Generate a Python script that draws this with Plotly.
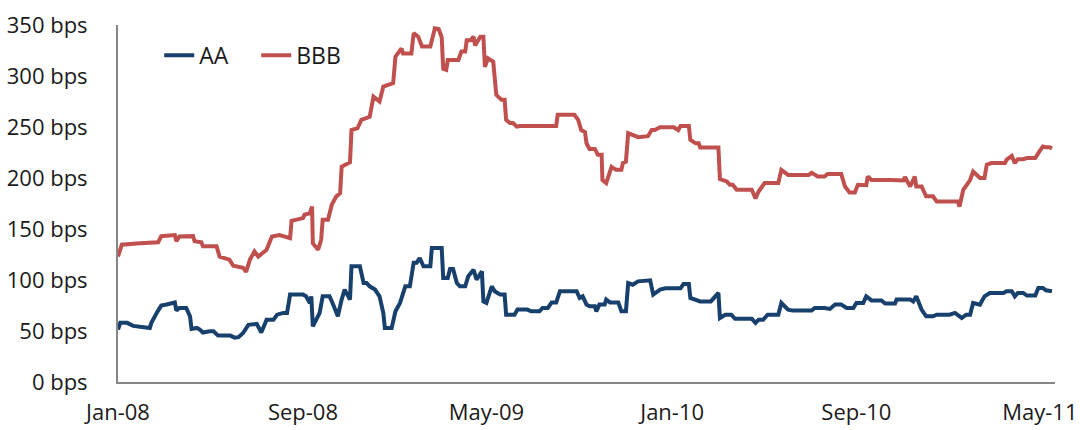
import plotly.graph_objects as go

aa_dates = [
    "2008-01-01", "2008-01-04", "2008-01-13", "2008-01-21", "2008-02-12", "2008-02-14", "2008-02-21",
    "2008-02-27", "2008-03-05", "2008-03-16", "2008-03-18", "2008-03-22", "2008-03-31", "2008-04-05",
    "2008-04-07", "2008-04-14", "2008-04-18", "2008-04-22", "2008-05-01", "2008-05-06", "2008-05-12",
    "2008-05-28", "2008-06-03", "2008-06-08", "2008-06-14", "2008-06-21", "2008-07-02", "2008-07-08",
    "2008-07-15", "2008-07-24", "2008-07-29", "2008-08-06", "2008-08-11", "2008-08-15", "2008-09-01",
    "2008-09-05", "2008-09-10", "2008-09-12", "2008-09-14", "2008-09-21", "2008-09-23", "2008-09-27",
    "2008-10-06", "2008-10-10", "2008-10-17", "2008-10-22", "2008-10-26", "2008-11-02", "2008-11-04",
    "2008-11-15", "2008-11-20", "2008-11-24", "2008-11-28", "2008-12-05", "2008-12-11", "2008-12-16",
    "2008-12-18", "2008-12-27", "2009-01-01", "2009-01-07", "2009-01-14", "2009-01-20", "2009-01-25",
    "2009-01-29", "2009-02-02", "2009-02-07", "2009-02-16", "2009-02-18", "2009-03-03", "2009-03-05",
    "2009-03-11", "2009-03-14", "2009-03-18", "2009-03-23", "2009-03-27", "2009-04-03", "2009-04-07",
    "2009-04-14", "2009-04-18", "2009-04-25", "2009-04-27", "2009-05-01", "2009-05-08", "2009-05-12",
    "2009-05-19", "2009-05-25", "2009-05-27", "2009-06-07", "2009-06-11", "2009-06-24", "2009-06-29",
    "2009-07-10", "2009-07-14", "2009-07-21", "2009-07-26", "2009-08-01", "2009-08-06", "2009-08-28",
    "2009-09-01", "2009-09-05", "2009-09-10", "2009-09-14", "2009-09-21", "2009-09-23", "2009-09-27",
    "2009-10-04", "2009-10-06", "2009-10-11", "2009-10-22", "2009-10-26", "2009-11-01", "2009-11-04",
    "2009-11-10", "2009-11-17", "2009-12-03", "2009-12-07", "2009-12-16", "2009-12-23", "2010-01-12",
    "2010-01-16", "2010-01-23", "2010-01-25", "2010-02-01", "2010-02-07", "2010-02-21", "2010-02-27",
    "2010-03-03", "2010-03-05", "2010-03-12", "2010-03-20", "2010-03-25", "2010-04-16", "2010-04-21",
    "2010-04-25", "2010-05-01", "2010-05-07", "2010-05-21", "2010-05-25", "2010-06-03", "2010-06-09",
    "2010-07-04", "2010-07-08", "2010-07-21", "2010-07-28", "2010-08-04", "2010-08-12", "2010-08-19",
    "2010-08-28", "2010-09-01", "2010-09-10", "2010-09-14", "2010-09-21", "2010-10-04", "2010-10-09",
    "2010-10-22", "2010-10-24", "2010-11-11", "2010-11-15", "2010-11-19", "2010-11-26", "2010-12-02",
    "2010-12-11", "2010-12-16", "2011-01-02", "2011-01-09", "2011-01-18", "2011-01-24", "2011-01-29",
    "2011-02-02", "2011-02-11", "2011-02-17", "2011-02-24", "2011-03-14", "2011-03-18", "2011-03-25",
    "2011-03-29", "2011-04-02", "2011-04-09", "2011-04-14", "2011-04-25", "2011-04-29", "2011-05-05",
    "2011-05-09", "2011-05-17",
]
aa_values = [
    51.4, 58, 58, 55, 53, 58, 67.7,
    74.9, 76, 78, 70, 72.6, 72.6, 64.4,
    52, 53, 51.4, 48.5, 49.7, 49.7, 45.5,
    45.5, 43.5, 44, 48, 56, 57, 48.5,
    61, 61, 66, 67.7, 67.7, 85.7, 85.7,
    84, 77.5, 84, 54.6, 64.4, 67.7, 84,
    84, 77.5, 64.4, 80.8, 90.6, 80.8, 113.4,
    113.4, 97, 97, 93.8, 90.6, 84, 67.7,
    53, 53, 69.3, 77.5, 93.8, 93.8, 117,
    117, 121.6, 113.4, 113.4, 131.4, 131.4, 102,
    102, 110.8, 110.8, 97, 93.8, 93.8, 103.6,
    110, 100.4, 108.5, 79, 77.5, 93.8, 89,
    85.7, 85.7, 66, 66, 71, 71, 69.3,
    69.3, 72.6, 72.6, 78, 78, 89, 89,
    82.4, 84, 75.9, 74.2, 74.2, 69.3, 75.9,
    75.9, 80.8, 78, 78, 69.3, 69.3, 97,
    95.4, 98.7, 99.7, 85.7, 90.6, 91.8, 91.8,
    96, 96, 82.4, 80.8, 79, 79, 84,
    87.3, 62.8, 66, 66, 61.9, 61.9, 58,
    61, 61, 66, 66, 77.5, 71, 70,
    70, 72.6, 72.6, 71.6, 75.9, 75.9, 72.6,
    72.6, 77.5, 77.5, 84, 80, 80, 76.9,
    77, 80.8, 80.8, 79, 84, 71, 64.4,
    64.4, 66, 66, 67.7, 62.8, 66, 66,
    77.5, 75.9, 84, 87.3, 87.3, 89, 89,
    84, 87.3, 87.3, 84.7, 84.7, 92.2, 92.2,
    89.9, 89,
]

bbb_dates = [
    "2008-01-01", "2008-01-06", "2008-01-30", "2008-02-23", "2008-02-27", "2008-03-16", "2008-03-18",
    "2008-03-22", "2008-04-09", "2008-04-11", "2008-04-20", "2008-04-22", "2008-05-10", "2008-05-14",
    "2008-05-27", "2008-06-01", "2008-06-14", "2008-06-18", "2008-06-23", "2008-06-29", "2008-07-04",
    "2008-07-15", "2008-07-22", "2008-08-01", "2008-08-15", "2008-08-17", "2008-09-01", "2008-09-03",
    "2008-09-10", "2008-09-13", "2008-09-14", "2008-09-21", "2008-09-25", "2008-09-27", "2008-10-04",
    "2008-10-09", "2008-10-15", "2008-10-20", "2008-10-22", "2008-11-02", "2008-11-04", "2008-11-12",
    "2008-11-17", "2008-11-28", "2008-12-03", "2008-12-11", "2008-12-16", "2008-12-29", "2009-01-01",
    "2009-01-09", "2009-01-11", "2009-01-22", "2009-01-25", "2009-01-31", "2009-02-05", "2009-02-16",
    "2009-02-22", "2009-02-27", "2009-03-03", "2009-03-05", "2009-03-09", "2009-03-11", "2009-03-25",
    "2009-03-29", "2009-04-03", "2009-04-05", "2009-04-10", "2009-04-14", "2009-04-16", "2009-04-23",
    "2009-04-27", "2009-04-29", "2009-05-03", "2009-05-10", "2009-05-14", "2009-05-21", "2009-05-25",
    "2009-05-27", "2009-06-01", "2009-06-05", "2009-06-10", "2009-06-14", "2009-08-01", "2009-08-03",
    "2009-08-25", "2009-08-30", "2009-09-03", "2009-09-08", "2009-09-10", "2009-09-14", "2009-09-21",
    "2009-09-25", "2009-09-30", "2009-10-01", "2009-10-06", "2009-10-13", "2009-10-19", "2009-10-26",
    "2009-10-28", "2009-11-01", "2009-11-04", "2009-11-10", "2009-11-17", "2009-11-30", "2009-12-05",
    "2009-12-09", "2009-12-16", "2010-01-03", "2010-01-09", "2010-01-12", "2010-01-23", "2010-01-25",
    "2010-02-01", "2010-02-05", "2010-02-07", "2010-03-03", "2010-03-05", "2010-03-14", "2010-03-18",
    "2010-03-22", "2010-03-27", "2010-04-16", "2010-04-21", "2010-04-25", "2010-05-03", "2010-05-21",
    "2010-05-25", "2010-06-03", "2010-06-30", "2010-07-04", "2010-07-12", "2010-07-21", "2010-07-25",
    "2010-08-12", "2010-08-17", "2010-08-23", "2010-08-30", "2010-09-03", "2010-09-14", "2010-09-16",
    "2010-09-21", "2010-10-17", "2010-11-02", "2010-11-04", "2010-11-11", "2010-11-17", "2010-11-19",
    "2010-11-26", "2010-12-02", "2010-12-11", "2010-12-16", "2011-01-07", "2011-01-13", "2011-01-15",
    "2011-01-20", "2011-01-29", "2011-02-02", "2011-02-11", "2011-02-17", "2011-02-20", "2011-02-26",
    "2011-03-16", "2011-03-18", "2011-03-25", "2011-03-29", "2011-04-02", "2011-04-09", "2011-04-14",
    "2011-04-25", "2011-04-29", "2011-05-05", "2011-05-09", "2011-05-14", "2011-05-17",
]
bbb_values = [
    123, 134.6, 136, 137, 143, 144, 138,
    142.7, 143, 138, 137, 133, 133, 123,
    120, 114, 112, 108, 120, 128, 123,
    129.7, 142.7, 144, 141, 158, 160.7, 164,
    165.6, 172, 136, 129.7, 139.5, 159, 159,
    173.8, 182, 185, 211, 215.4, 247, 248.8,
    257, 260, 279.8, 275, 289.6, 293, 319,
    327, 322, 322, 342, 338.6, 329, 329,
    346.8, 346, 338, 307, 306, 315.7, 315.7,
    324, 324, 335, 335, 338.6, 330, 338.6,
    338.6, 309, 317.4, 314, 281.5, 276.6, 276.6,
    257, 253.8, 253.8, 250.4, 251, 251, 262,
    262, 257, 247, 245, 234, 228.5, 228.5,
    222.7, 222.7, 198, 195, 211, 208, 208,
    214.6, 216, 244, 242, 240, 241, 247,
    247, 249.8, 249.8, 247, 251, 251, 237.4,
    234, 234, 230, 230, 199, 196.6, 193.4,
    193.4, 188.5, 188.5, 180, 186.8, 195, 195,
    208, 203, 203, 205, 201.5, 201.5, 204,
    204, 191.7, 185.8, 185.8, 193.4, 193, 201.5,
    198, 198, 197.6, 201, 191.7, 201.5, 191.7,
    191.7, 182, 182, 177, 177, 177, 172,
    188.5, 198, 206.4, 200, 200, 213, 214.6,
    214.6, 217.8, 221.7, 214.6, 218.5, 218.5, 219.5,
    219.5, 224.4, 230.9, 230.2, 230.2, 229,
]

x_tick_vals = ["2008-01-01", "2008-09-01", "2009-05-01", "2010-01-01", "2010-09-01", "2011-05-01"]
x_tick_text = ["Jan-08", "Sep-08", "May-09", "Jan-10", "Sep-10", "May-11"]
y_tick_vals = [0, 50, 100, 150, 200, 250, 300, 350]
y_tick_text = [f"{v} bps" for v in y_tick_vals]

AA_COLOR = "#17406d"
BBB_COLOR = "#c0504d"
FONT = "Open Sans"

fig = go.Figure()
fig.add_trace(go.Scatter(x=aa_dates, y=aa_values, mode="lines", name="AA",
                         line=dict(color=AA_COLOR, width=4)))
fig.add_trace(go.Scatter(x=bbb_dates, y=bbb_values, mode="lines", name="BBB",
                         line=dict(color=BBB_COLOR, width=4)))

fig.update_layout(
    width=1080, height=430,
    margin=dict(l=118, r=25, t=25, b=48),
    paper_bgcolor="white", plot_bgcolor="white",
    font=dict(family=FONT, size=22, color="#1a1a1a"),
    showlegend=True,
    legend=dict(orientation="h", x=0.044, y=0.915, xanchor="left", yanchor="middle",
                bgcolor="rgba(0,0,0,0)", font=dict(size=23, color="#1a1a1a"),
                itemwidth=30, entrywidth=52, entrywidthmode="pixels", tracegroupgap=0),
    xaxis=dict(
        type="date", range=["2008-01-01", "2011-05-21"],
        tickvals=x_tick_vals, ticktext=x_tick_text, tickangle=0,
        showgrid=False, zeroline=False, showline=True, linecolor="#868686", linewidth=2,
        ticks="", ticklabelstandoff=10, automargin=False,
    ),
    yaxis=dict(
        range=[0, 350], tickvals=y_tick_vals, ticktext=y_tick_text,
        showgrid=False, zeroline=False, showline=True, linecolor="#868686", linewidth=2,
        ticks="", ticklabelstandoff=24, automargin=False,
    ),
)

fig.write_html("out.html")
